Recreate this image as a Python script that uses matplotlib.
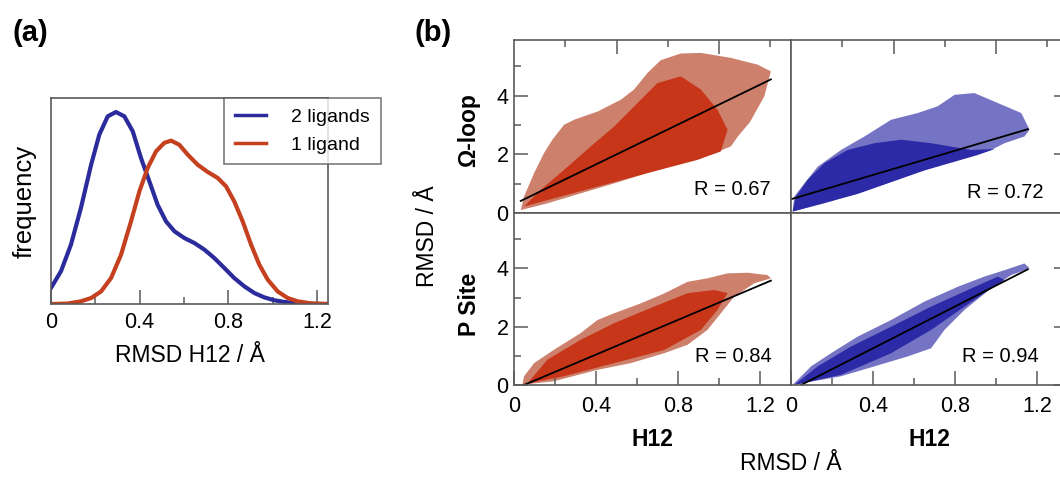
import matplotlib
matplotlib.use("Agg")
import matplotlib.pyplot as plt

plt.rcParams["font.family"] = ["Liberation Sans", "DejaVu Sans"]

W, H = 1060, 478

# ---- panel (a): RMSD H12 distributions ----
rmsd_x_2 = [0.0, 0.045, 0.090, 0.135, 0.181, 0.218, 0.256, 0.293, 0.331, 0.369, 0.406,
            0.444, 0.481, 0.519, 0.557, 0.602, 0.647, 0.692, 0.737, 0.782, 0.827, 0.872,
            0.918, 0.963, 1.008, 1.053, 1.113, 1.203, 1.25]
freq_2lig = [0.078, 0.159, 0.288, 0.466, 0.676, 0.822, 0.911, 0.932, 0.911, 0.838, 0.709,
             0.595, 0.482, 0.401, 0.353, 0.320, 0.296, 0.264, 0.223, 0.175, 0.126, 0.086,
             0.053, 0.032, 0.018, 0.010, 0.003, 0.0, 0.0]
rmsd_x_1 = [0.0, 0.075, 0.135, 0.181, 0.226, 0.271, 0.316, 0.361, 0.399, 0.436, 0.474,
            0.511, 0.542, 0.579, 0.617, 0.662, 0.707, 0.752, 0.790, 0.827, 0.865, 0.903,
            0.940, 0.978, 1.023, 1.068, 1.113, 1.173, 1.248]
freq_1lig = [0.0, 0.002, 0.013, 0.029, 0.061, 0.126, 0.239, 0.401, 0.547, 0.660, 0.741,
             0.782, 0.793, 0.773, 0.725, 0.676, 0.641, 0.612, 0.571, 0.498, 0.401, 0.288,
             0.191, 0.118, 0.061, 0.029, 0.013, 0.003, 0.0]

# ---- panel (b): scatter clouds (outer envelope / dense core) and fits ----
omega_1_outer = [(0.033, 0.10), (0.163, 0.33), (0.325, 0.67), (0.488, 1.01), (0.650, 1.36),
                 (0.813, 1.70), (0.976, 2.04), (1.057, 2.27), (1.09, 2.60), (1.15, 3.10),
                 (1.220, 3.98), (1.252, 4.83), (1.187, 5.06), (1.057, 5.29), (0.911, 5.46),
                 (0.813, 5.44), (0.715, 5.21), (0.650, 4.77), (0.585, 4.21), (0.520, 3.86),
                 (0.407, 3.46), (0.293, 3.18), (0.244, 3.01), (0.187, 2.50), (0.146, 2.04),
                 (0.098, 1.36), (0.049, 0.56)]
omega_1_core = [(0.049, 0.22), (0.195, 0.50), (0.407, 0.90), (0.650, 1.36), (0.894, 1.81),
                (1.008, 2.10), (1.041, 2.84), (0.992, 3.52), (0.911, 4.21), (0.813, 4.66),
                (0.699, 4.43), (0.602, 3.75), (0.488, 2.95), (0.374, 2.27), (0.244, 1.47),
                (0.130, 0.79)]
omega_2_outer = [(0.008, 0.05), (0.163, 0.33), (0.325, 0.67), (0.488, 1.07), (0.650, 1.47),
                 (0.813, 1.81), (0.976, 2.15), (1.041, 2.38), (1.138, 2.61), (1.163, 2.84),
                 (1.122, 3.41), (0.894, 4.09), (0.797, 4.03), (0.715, 3.64), (0.618, 3.41),
                 (0.488, 3.18), (0.358, 2.61), (0.244, 2.15), (0.130, 1.58), (0.065, 1.01),
                 (0.016, 0.56)]
omega_2_core = [(0.008, 0.05), (0.325, 0.65), (0.650, 1.45), (0.911, 1.98), (0.992, 2.18),
                (0.878, 2.15), (0.683, 2.38), (0.537, 2.50), (0.407, 2.38), (0.276, 2.15),
                (0.163, 1.70), (0.081, 1.13), (0.024, 0.56)]
psite_1_outer = [(0.041, 0.01), (0.195, 0.13), (0.407, 0.52), (0.569, 0.75), (0.732, 1.09),
                 (0.846, 1.38), (0.943, 1.89), (1.008, 2.46), (1.073, 3.03), (1.171, 3.49),
                 (1.252, 3.66), (1.236, 3.77), (1.138, 3.85), (1.041, 3.83), (0.943, 3.66),
                 (0.846, 3.54), (0.732, 3.14), (0.618, 2.80), (0.488, 2.46), (0.407, 2.23),
                 (0.325, 1.78), (0.195, 1.21), (0.098, 0.75), (0.049, 0.30)]
psite_1_core = [(0.065, 0.05), (0.244, 0.30), (0.488, 0.75), (0.732, 1.20), (0.911, 1.89),
                (0.992, 2.58), (1.041, 3.15), (0.976, 3.26), (0.846, 3.15), (0.683, 2.69),
                (0.488, 2.12), (0.325, 1.55), (0.163, 0.87)]
psite_2_outer = [(0.008, 0.0), (0.244, 0.30), (0.407, 0.64), (0.569, 0.98), (0.683, 1.26),
                 (0.748, 1.89), (0.846, 2.58), (0.976, 3.32), (1.073, 3.77), (1.163, 4.00),
                 (1.138, 4.17), (1.041, 3.94), (0.943, 3.72), (0.813, 3.37), (0.650, 2.86),
                 (0.488, 2.23), (0.325, 1.66), (0.195, 1.09), (0.098, 0.64), (0.033, 0.18)]
psite_2_core = [(0.016, 0.0), (0.244, 0.35), (0.488, 1.09), (0.683, 1.89), (0.846, 2.69),
                (0.976, 3.32), (1.041, 3.60), (1.008, 3.72), (0.878, 3.31), (0.683, 2.69),
                (0.488, 2.00), (0.293, 1.32), (0.130, 0.64)]

# fit lines: (x_start, x_end, slope, intercept)
fit_omega_1 = (0.033, 1.252, 3.40, 0.30)
fit_omega_2 = (0.0, 1.154, 2.07, 0.47)
fit_psite_1 = (0.049, 1.252, 2.976, -0.146)
fit_psite_2 = (0.049, 1.154, 3.59, -0.176)
r_labels = ["R = 0.67", "R = 0.72", "R = 0.84", "R = 0.94"]

blue = "#2b2b9c"
red = "#c4401f"
cloud_red = "#c8361a"
cloud_red_sparse = "#b84a2c"
cloud_blue = "#2c2aa6"
cloud_blue_sparse = "#3b38aa"
spine_c = "#5a5a5a"


def fig_xy(x, y):
    return x / W, 1 - y / H


def box(l, t, r, b):
    return [l / W, 1 - b / H, (r - l) / W, (b - t) / H]


fig = plt.figure(figsize=(W / 100, H / 100), dpi=100)

# ---------- (a) ----------
ax = fig.add_axes(box(51, 98, 328, 304))
ax.plot(rmsd_x_2, freq_2lig, color=blue, lw=3, label="2 ligands", solid_joinstyle="round")
ax.plot(rmsd_x_1, freq_1lig, color=red, lw=3, label="1 ligand", solid_joinstyle="round")
ax.set_xlim(0, 1.25)
ax.set_ylim(0, 1)
ax.set_yticks([])
ax.set_xticks([0, 0.4, 0.8, 1.2])
ax.set_xticklabels(["0", "0.4", "0.8", "1.2"])
ax.set_xticks([0.2, 0.6, 1.0], minor=True)
ax.tick_params(axis="x", which="both", direction="in", color=spine_c, width=1.1,
               labelsize=15.5, pad=6)
ax.tick_params(axis="x", which="major", length=10)
ax.tick_params(axis="x", which="minor", length=5)
for s in ax.spines.values():
    s.set_color(spine_c)
    s.set_linewidth(1.2)
ax.set_xlabel("RMSD H12 / Å", fontsize=16.5, labelpad=8)
ax.set_ylabel("frequency", fontsize=18.5, labelpad=10)
leg = ax.legend(loc="upper left", bbox_to_anchor=fig_xy(224, 98),
                bbox_transform=fig.transFigure, fontsize=14, frameon=True,
                fancybox=False, borderaxespad=0, handlelength=1.6, handletextpad=1.3,
                borderpad=0.55, labelspacing=0.5)
leg.get_frame().set_edgecolor(spine_c)
leg.get_frame().set_linewidth(1.2)
for line in leg.get_lines():
    line.set_linewidth(2.5)

fig.text(*fig_xy(12, 33), "(a)", fontsize=21, fontweight="bold", va="center", ha="left")
fig.text(*fig_xy(414, 33), "(b)", fontsize=21, fontweight="bold", va="center", ha="left")

# ---------- (b) ----------
panels = [
    (box(514, 40, 791, 213), omega_1_outer, omega_1_core, fit_omega_1,
     cloud_red_sparse, cloud_red, 0, 0, (0.928, 0.133)),
    (box(791, 40, 1068, 213), omega_2_outer, omega_2_core, fit_omega_2,
     cloud_blue_sparse, cloud_blue, 0, 1, (0.91, 0.121)),
    (box(514, 213, 791, 385), psite_1_outer, psite_1_core, fit_psite_1,
     cloud_red_sparse, cloud_red, 1, 0, (0.931, 0.163)),
    (box(791, 213, 1068, 385), psite_2_outer, psite_2_core, fit_psite_2,
     cloud_blue_sparse, cloud_blue, 1, 1, (0.895, 0.163)),
]

for i, (rect, outer, core, fit, col_o, col_c, row, colidx, rpos) in enumerate(panels):
    ax = fig.add_axes(rect)
    ax.fill([p[0] for p in outer], [p[1] for p in outer], color=col_o, alpha=0.7, lw=0)
    ax.fill([p[0] for p in core], [p[1] for p in core], color=col_c, alpha=1.0, lw=0)
    x0, x1, m, b = fit
    ax.plot([x0, x1], [m * x0 + b, m * x1 + b], color="black", lw=1.3)
    ax.set_xlim(0, 1.35)
    ax.set_ylim(0, 5.9)
    for s in ax.spines.values():
        s.set_color(spine_c)
        s.set_linewidth(1.2)
    ax.tick_params(which="both", direction="in", color=spine_c, width=1.1, labelsize=15.5)
    ax.tick_params(which="major", length=10)
    ax.tick_params(which="minor", length=5)
    if row == 0:
        ax.xaxis.set_ticks_position("top")
        ax.set_xticks([0.5, 1.0])
        ax.set_xticks([0.25, 0.75, 1.25], minor=True)
        ax.tick_params(axis="x", which="both", labeltop=False, labelbottom=False)
    else:
        ax.xaxis.set_ticks_position("bottom")
        ax.set_xticks([0, 0.4, 0.8, 1.2])
        ax.set_xticklabels(["0", "0.4", "0.8", "1.2"])
        ax.set_xticks([0.2, 0.6, 1.0], minor=True)
        ax.tick_params(axis="x", which="both", pad=8)
        ax.set_xlabel("H12", fontsize=16.5, fontweight="bold", labelpad=8)
    ax.set_yticks([0, 2, 4])
    ax.set_yticks([1, 3, 5], minor=True)
    if colidx == 0:
        ax.yaxis.set_ticks_position("left")
        ax.tick_params(axis="y", which="both", pad=4)
        ax.set_yticklabels(["0", "2", "4"])
    else:
        ax.yaxis.set_ticks_position("right")
        ax.tick_params(axis="y", which="both", labelright=False, labelleft=False)
    ax.text(rpos[0], rpos[1], r_labels[i], transform=ax.transAxes, ha="right",
            va="center", fontsize=14.5)

fig.text(*fig_xy(469, 130), "Ω-loop", rotation=90, fontsize=16.5, fontweight="bold",
         ha="center", va="center")
fig.text(*fig_xy(469, 304), "P Site", rotation=90, fontsize=16.5, fontweight="bold",
         ha="center", va="center")
fig.text(*fig_xy(427, 236), "RMSD / Å", rotation=90, fontsize=16.5, ha="center",
         va="center")
fig.text(*fig_xy(791, 463), "RMSD / Å", fontsize=16.5, ha="center", va="center")

fig.savefig("out.png", dpi=100)
